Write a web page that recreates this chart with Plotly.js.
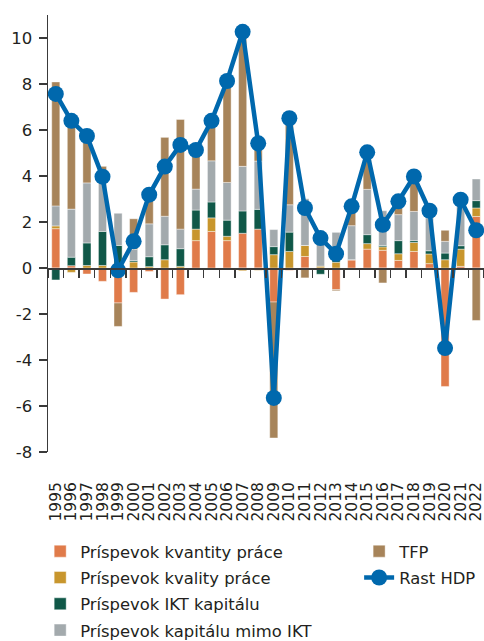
<!DOCTYPE html>
<html>
<head>
<meta charset="utf-8">
<script src="https://cdn.plot.ly/plotly-3.0.1.min.js"></script>
<style>
html,body{margin:0;padding:0;background:#fff;}
#chart{width:484px;height:641px;}
</style>
</head>
<body>
<div id="chart"></div>
<script>
const years = ["1995","1996","1997","1998","1999","2000","2001","2002","2003","2004","2005","2006","2007","2008","2009","2010","2011","2012","2013","2014","2015","2016","2017","2018","2019","2020","2021","2022"];

const kvantitaPrace = [1.71,0.10,-0.26,-0.58,-1.52,-1.06,-0.15,-1.35,-1.16,1.19,1.59,1.19,1.51,1.69,-1.48,-0.10,0.50,0.00,-0.94,0.36,0.82,0.77,0.33,0.72,0.19,-5.15,0.07,2.24];
const kvalitaPrace = [0.12,-0.19,0.11,0.11,0.00,0.26,0.06,0.36,0.07,0.50,0.59,0.19,-0.12,-0.10,0.58,0.72,0.48,0.08,0.25,0.00,0.24,0.15,0.29,0.39,0.42,0.36,0.75,0.37];
const iktKapital = [-0.52,0.37,0.98,1.48,0.98,0.06,0.43,0.65,0.77,0.83,0.69,0.70,0.97,0.86,0.35,0.84,0.00,-0.27,0.12,0.00,0.39,0.06,0.57,0.08,0.14,0.29,0.15,0.32];
const kapitalMimoIkt = [0.87,2.09,2.61,2.10,1.40,0.49,1.43,1.24,0.85,0.91,1.79,1.64,1.94,2.10,0.74,1.19,2.03,1.47,1.18,1.48,1.97,1.51,1.13,1.27,1.42,0.51,1.70,0.94];
const tfp = [5.39,3.80,2.20,0.73,-1.02,1.33,1.56,3.43,4.77,1.65,1.75,4.40,5.84,0.78,-5.91,4.00,-0.43,0.00,-0.05,0.75,1.45,-0.65,0.43,1.41,0.30,0.48,0.25,-2.28];
const rastHdp = [7.57,6.40,5.74,3.97,-0.10,1.16,3.19,4.41,5.35,5.13,6.40,8.13,10.27,5.42,-5.65,6.51,2.61,1.30,0.62,2.68,5.03,1.88,2.90,3.98,2.49,-3.48,2.97,1.64];

const yTickVals = [-8,-6,-4,-2,0,2,4,6,8,10];
const yTickText = ["-8","-6","-4","-2","0","2","4","6","8","10"];

const names = ["Príspevok kvantity práce","Príspevok kvality práce","Príspevok IKT kapitálu","Príspevok kapitálu mimo IKT","TFP","Rast HDP"];
const colors = ["#E07B4A","#C8962D","#105848","#A3AAAD","#A7845A","#0068AD"];

const barLine = {color:"rgba(255,255,255,0.6)", width:0.7};
function barTrace(vals, i, legend){
  return {type:"bar", x:years, y:vals, name:names[i], xaxis:"x", yaxis:"y", legendgroup:"g"+i,
    marker:{color:colors[i], line:barLine}, legend:legend, hoverinfo:"skip"};
}

const data = [
  barTrace(kvantitaPrace,0,"legend"),
  barTrace(kvalitaPrace,1,"legend"),
  barTrace(iktKapital,2,"legend"),
  barTrace(kapitalMimoIkt,3,"legend"),
  barTrace(tfp,4,"legend2"),
  {type:"scatter", mode:"lines+markers", x:years, y:rastHdp, name:names[5], legendgroup:"g5",
   xaxis:"x2", yaxis:"y", legend:"legend2",
   line:{color:colors[5], width:4.5}, marker:{color:colors[5], size:16}, hoverinfo:"skip"}
];

const yTickFont = {family:"DejaVu Sans, sans-serif", size:16.5, color:"#231F20"};
const xTickFont = {family:"DejaVu Sans, sans-serif", size:15.5, color:"#231F20"};
const legFont = {family:"DejaVu Sans, sans-serif", size:16.4, color:"#231F20"};
const yMin = -8, yMax = 11;

const layout = {
  width:484, height:641,
  margin:{l:48, r:0, t:15, b:189, autoexpand:false},
  paper_bgcolor:"#fff", plot_bgcolor:"#fff",
  barmode:"relative", bargap:0.48,
  showlegend:true,
  font:{family:"DejaVu Sans, sans-serif", color:"#231F20"},
  xaxis:{type:"category", range:[-0.5,27.5], showline:false, ticks:"", showgrid:false, zeroline:false,
    tickmode:"array", tickvals:years, ticktext:years,
    tickangle:-90, tickfont:xTickFont, ticklabelstandoff:26, automargin:false, fixedrange:true},
  xaxis2:{type:"category", overlaying:"x", anchor:"free", position:(0-yMin)/(yMax-yMin),
    range:[-0.5,27.5], showline:true, linecolor:"#3a3a3a", linewidth:1.5,
    ticks:"outside", tickson:"boundaries", ticklen:8, tickwidth:1.5, tickcolor:"#3a3a3a",
    showticklabels:false, showgrid:false, zeroline:false, fixedrange:true},
  yaxis:{range:[yMin,yMax], tickmode:"array", tickvals:yTickVals, ticktext:yTickText,
    showline:true, linecolor:"#3a3a3a", linewidth:1.5,
    ticks:"outside", ticklen:8, tickwidth:1.5, tickcolor:"#3a3a3a", showgrid:false, zeroline:false,
    tickfont:yTickFont, ticklabelstandoff:3, automargin:false, fixedrange:true},
  legend:{xref:"container", yref:"container", x:0.083, y:1-534/641, xanchor:"left", yanchor:"top",
    orientation:"v", traceorder:"grouped", tracegroupgap:2, font:legFont,
    bgcolor:"rgba(0,0,0,0)"},
  legend2:{xref:"container", yref:"container", x:0.742, y:1-534/641, xanchor:"left", yanchor:"top",
    orientation:"v", traceorder:"grouped", tracegroupgap:2, font:legFont,
    bgcolor:"rgba(0,0,0,0)"}
};

Plotly.newPlot("chart", data, layout, {staticPlot:true, displayModeBar:false});
</script>
</body>
</html>
